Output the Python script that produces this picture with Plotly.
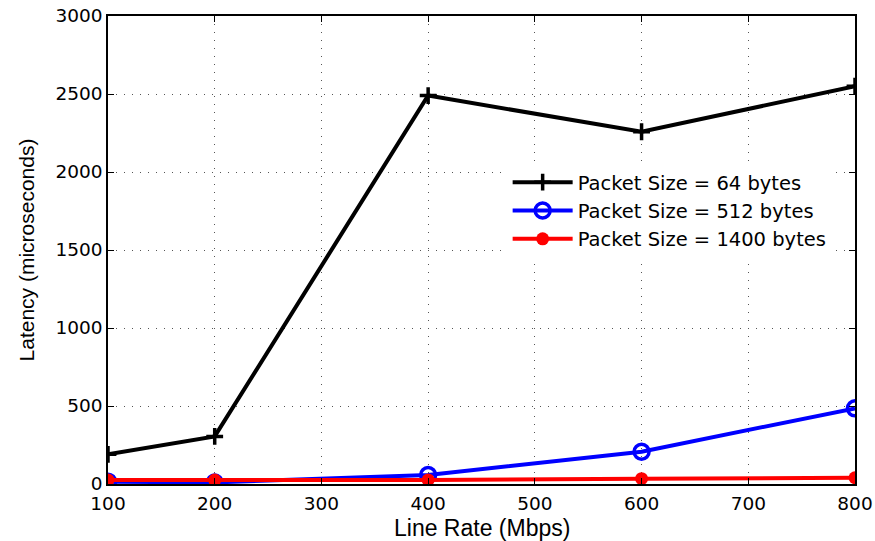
import plotly.graph_objects as go

line_rate = [100, 200, 400, 600, 800]
lat_64 = [190, 305, 2490, 2258, 2550]
lat_512 = [15, 10, 58, 207, 485]
lat_1400 = [25, 25, 26, 34, 40]

tick_font = "DejaVu Sans, Verdana, sans-serif"
title_font = "Liberation Sans, Arial, Helvetica, sans-serif"

fig = go.Figure()
fig.add_trace(go.Scatter(x=line_rate, y=lat_64, mode="lines+markers", name="Packet Size = 64 bytes",
                         line=dict(color="black", width=4),
                         marker=dict(symbol="cross-thin-open", size=12, color="black", line=dict(width=3.5, color="black"))))
fig.add_trace(go.Scatter(x=line_rate, y=lat_512, mode="lines+markers", name="Packet Size = 512 bytes",
                         line=dict(color="blue", width=4),
                         marker=dict(symbol="circle-open", size=15, color="blue", line=dict(width=3.5, color="blue"))))
fig.add_trace(go.Scatter(x=line_rate, y=lat_1400, mode="lines+markers", name="Packet Size = 1400 bytes",
                         line=dict(color="red", width=4),
                         marker=dict(symbol="circle", size=13, color="red")))

axis_common = dict(showline=True, linecolor="black", linewidth=1.5, mirror="ticks",
                   ticks="inside", ticklen=6, tickcolor="black", tickwidth=1,
                   showgrid=True, gridcolor="#555555", griddash="1px,7px", gridwidth=1,
                   zeroline=False, automargin=False,
                   tickfont=dict(family=tick_font, size=18.5, color="black"))

fig.update_xaxes(range=[100, 800], tickvals=[100, 200, 300, 400, 500, 600, 700, 800],
                 ticklabelstandoff=2, **axis_common)
fig.update_yaxes(range=[0, 3000], tickvals=[0, 500, 1000, 1500, 2000, 2500, 3000],
                 title=dict(text="Latency (microseconds)", font=dict(family=title_font, size=21, color="black"), standoff=15),
                 **axis_common)

fig.add_annotation(text="Line Rate (Mbps)", xref="paper", yref="paper", x=0.5, y=-0.093,
                   xanchor="center", yanchor="middle", showarrow=False,
                   font=dict(family=title_font, size=23, color="black"))

fig.update_layout(width=875, height=541, margin=dict(l=108, r=20, t=16, b=57),
                  plot_bgcolor="white", paper_bgcolor="white",
                  font=dict(family=tick_font, color="black"),
                  legend=dict(x=0.535, y=0.686, xanchor="left", yanchor="top", bgcolor="white",
                              font=dict(family=tick_font, size=19.5, color="black"), tracegroupgap=0,
                              itemwidth=60))
fig.write_html("out.html")
